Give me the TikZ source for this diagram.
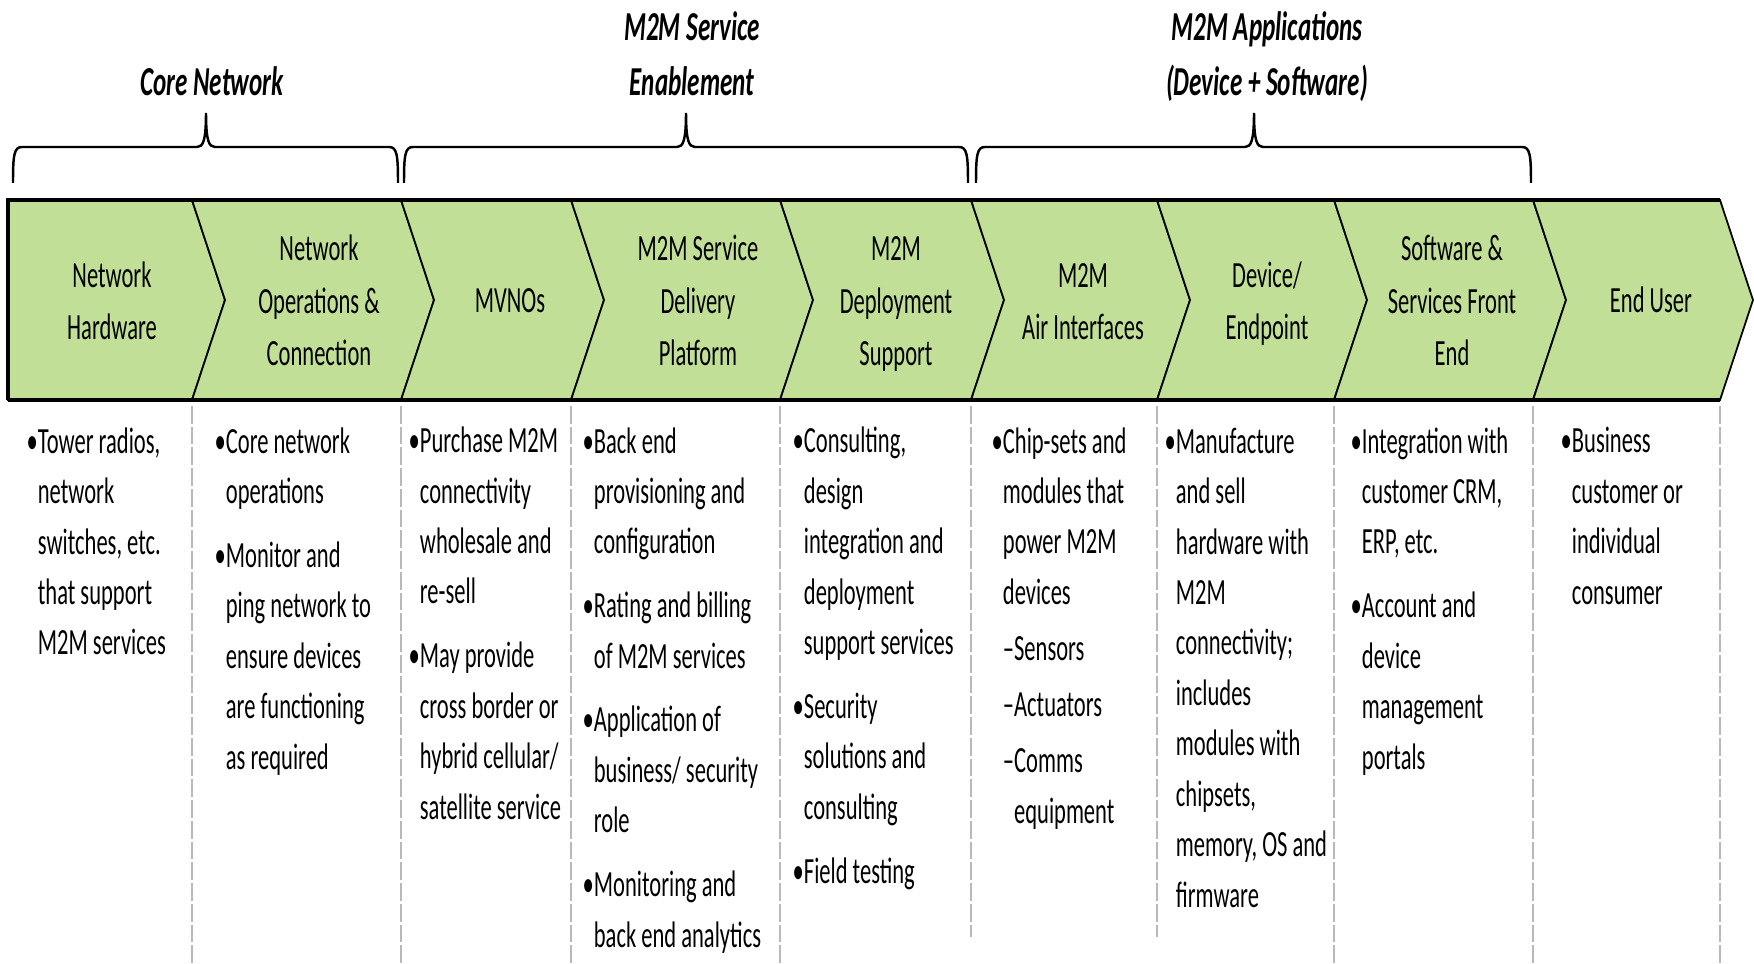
\documentclass[tikz,border=0pt]{standalone}
\usepackage{fontspec}
\setmainfont{Carlito}[FakeStretch=0.61]
\usetikzlibrary{positioning}
\definecolor{chevgreen}{RGB}{193,223,150}
\definecolor{sepgray}{RGB}{185,185,185}
\newcommand{\ind}{\hphantom{•}}
\tikzset{chev/.style={draw=black, line width=0.5pt, fill=chevgreen, line join=miter},
    chevtxt/.style={align=center, anchor=base, inner sep=0pt, font=\fontsize{10.5}{15}\selectfont},
    coltxt/.style={align=left, anchor=base west, inner sep=0pt, font=\fontsize{10.5}{14.34}\selectfont},
    grptxt/.style={align=center, anchor=base, inner sep=0pt, font=\fontsize{11.7}{15.9}\selectfont\bfseries\itshape},
    sepln/.style={draw=sepgray, line width=0.6pt, dash pattern=on 5pt off 0.9pt},
    brc/.style={draw=black, line width=0.7pt}}

\begin{document}
\begin{tikzpicture}[x=0.01cm, y=-0.01cm]
\useasboundingbox (0,0) rectangle (1754,964);
% chevron band
\filldraw[chev] (8,200) -- (192,200) -- (225,300) -- (192,400) -- (8,400) -- cycle;
\foreach \a/\b in {192/401, 401/571, 571/780, 780/971, 971/1157, 1157/1334, 1334/1533, 1533/1720}
    \filldraw[chev] (\a,200) -- (\b,200) -- (\b+33,300) -- (\b,400) -- (\a,400) -- (\a+33,300) -- cycle;
\draw[line width=0.9pt] (8,400) -- (8,200) -- (1720,200) (8,400) -- (1720,400);
% column separators
\foreach \x/\e in {192/964, 401/964, 571/964, 780/964, 971/937, 1157/937, 1334/964, 1533/964, 1720/964}
    \draw[sepln] (\x,406) -- (\x,\e);
% braces
\foreach \l/\m/\r in {13/206/398, 404/686/968, 976/1254/1531}
    \draw[brc] (\l,183) .. controls (\l,155) and (\l+1,147) .. (\l+9,147) -- (\m-9,147)
        .. controls (\m-3,147) and (\m,141) .. (\m,113) .. controls (\m,141) and (\m+3,147) .. (\m+9,147)
        -- (\r-9,147) .. controls (\r-1,147) and (\r,155) .. (\r,183);
\node[grptxt] (gcore) at (212,96) {Core Network};
\node[grptxt] (gserv) at (692,96) {M2M Service\\Enablement};
\node[grptxt] (gapp) at (1267,96) {M2M Applications\\(Device + Software)};
% headings (anchored at the last line)
\node[chevtxt] (h1) at (112,340) {Network\\Hardware};
\node[chevtxt] (h2) at (319,366) {Network\\Operations \&\\Connection};
\node[chevtxt] (h3) at (510,313) {MVNOs};
\node[chevtxt] (h4) at (698,366) {M2M Service\\Delivery\\Platform};
\node[chevtxt] (h5) at (896,366) {M2M\\Deployment\\Support};
\node[chevtxt] (h6) at (1083,340) {M2M\\Air Interfaces};
\node[chevtxt] (h7) at (1267,340) {Device/\\Endpoint};
\node[chevtxt] (h8) at (1452,366) {Software \&\\Services Front\\End};
\node[chevtxt] (h9) at (1651,313) {End User};
% column texts (anchored at the last line)
\node[coltxt] (c1) at (26,655) {•Tower radios,\\\ind network\\\ind switches, etc.\\\ind that support\\\ind M2M services};
\node[coltxt] (c2) at (214,769) {•Core network\\\ind operations\\[3.8pt]•Monitor and\\\ind ping network to\\\ind ensure devices\\\ind are functioning\\\ind as required};
\node[coltxt] (c3) at (408,819) {•Purchase M2M\\\ind connectivity\\\ind wholesale and\\\ind re-sell\\[3.8pt]•May provide\\\ind cross border or\\\ind hybrid cellular/\\\ind satellite service};
\node[coltxt] (c4) at (582,947) {•Back end\\\ind provisioning and\\\ind configuration\\[3.8pt]•Rating and billing\\\ind of M2M services\\[3.8pt]•Application of\\\ind business/ security\\\ind role\\[3.8pt]•Monitoring and\\\ind back end analytics};
\node[coltxt] (c5) at (792,883) {•Consulting,\\\ind design\\\ind integration and\\\ind deployment\\\ind support services\\[3.8pt]•Security\\\ind solutions and\\\ind consulting\\[3.8pt]•Field testing};
\node[coltxt] (c6) at (991,823) {•Chip-sets and\\\ind modules that\\\ind power M2M\\\ind devices\\[1.6pt]\ind –Sensors\\[1.6pt]\ind –Actuators\\[1.6pt]\ind –Comms\\\ind \hphantom{–}equipment};
\node[coltxt] (c7) at (1164,907) {•Manufacture\\\ind and sell\\\ind hardware with\\\ind M2M\\\ind connectivity;\\\ind includes\\\ind modules with\\\ind chipsets,\\\ind memory, OS and\\\ind firmware};
\node[coltxt] (c8) at (1350,769) {•Integration with\\\ind customer CRM,\\\ind ERP, etc.\\[3.8pt]•Account and\\\ind device\\\ind management\\\ind portals};
\node[coltxt] (c9) at (1560,604) {•Business\\\ind customer or\\\ind individual\\\ind consumer};
\end{tikzpicture}
\end{document}
